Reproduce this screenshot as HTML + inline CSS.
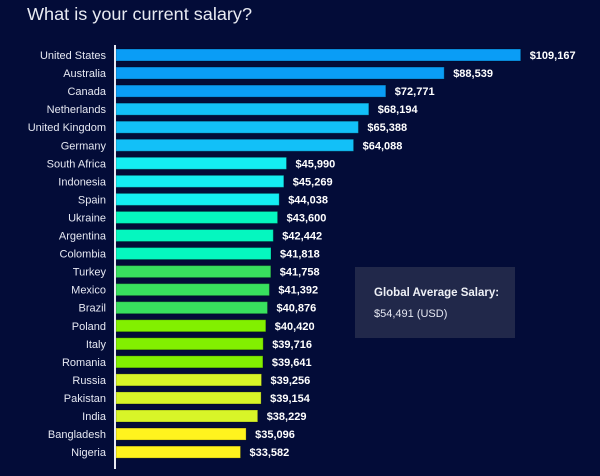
<!DOCTYPE html>
<html><head><meta charset="utf-8"><style>
html,body{margin:0;padding:0;background:#030c38;}
svg{display:block;}
.c{font-family:"Liberation Sans",sans-serif;font-size:11px;fill:#e6e8f2;text-anchor:end;}
.v{font-family:"Liberation Sans",sans-serif;font-size:11px;font-weight:bold;fill:#ffffff;}
</style></head><body>
<svg width="600" height="476" viewBox="0 0 600 476" xmlns="http://www.w3.org/2000/svg">
<rect width="600" height="476" fill="#030c38"/>
<text x="27" y="20" font-family="Liberation Sans, sans-serif" font-size="17.5" fill="#e8eaf2" textLength="225" lengthAdjust="spacingAndGlyphs">What is your current salary?</text>
<g stroke="rgba(0,0,0,0.25)" stroke-width="1">
<rect x="116" y="49" width="404.7" height="12" fill="#0a9df6"/>
<rect x="116" y="67.05" width="328.2" height="12" fill="#0a9df6"/>
<rect x="116" y="85.1" width="269.8" height="12" fill="#0a9df6"/>
<rect x="116" y="103.15" width="252.8" height="12" fill="#12c0f8"/>
<rect x="116" y="121.2" width="242.4" height="12" fill="#12c0f8"/>
<rect x="116" y="139.25" width="237.6" height="12" fill="#12c0f8"/>
<rect x="116" y="157.3" width="170.5" height="12" fill="#14eef2"/>
<rect x="116" y="175.35" width="167.8" height="12" fill="#14eef2"/>
<rect x="116" y="193.4" width="163.2" height="12" fill="#14eef2"/>
<rect x="116" y="211.45" width="161.6" height="12" fill="#05f7bf"/>
<rect x="116" y="229.5" width="157.3" height="12" fill="#05f7bf"/>
<rect x="116" y="247.55" width="155.0" height="12" fill="#05f7bf"/>
<rect x="116" y="265.6" width="154.8" height="12" fill="#38e05e"/>
<rect x="116" y="283.65" width="153.4" height="12" fill="#38e05e"/>
<rect x="116" y="301.7" width="151.5" height="12" fill="#38e05e"/>
<rect x="116" y="319.75" width="149.8" height="12" fill="#82f000"/>
<rect x="116" y="337.8" width="147.2" height="12" fill="#82f000"/>
<rect x="116" y="355.85" width="146.9" height="12" fill="#82f000"/>
<rect x="116" y="373.9" width="145.5" height="12" fill="#d8f528"/>
<rect x="116" y="391.95" width="145.1" height="12" fill="#d8f528"/>
<rect x="116" y="410" width="141.7" height="12" fill="#d8f528"/>
<rect x="116" y="428.05" width="130.1" height="12" fill="#fff31e"/>
<rect x="116" y="446.1" width="124.5" height="12" fill="#fff31e"/>
</g>
<line x1="115" y1="45" x2="115" y2="469" stroke="#e8eaf2" stroke-width="2"/>
<g class="c">
<text class="c" x="106" y="59">United States</text>
<text class="c" x="106" y="77.05">Australia</text>
<text class="c" x="106" y="95.1">Canada</text>
<text class="c" x="106" y="113.15">Netherlands</text>
<text class="c" x="106" y="131.2">United Kingdom</text>
<text class="c" x="106" y="149.25">Germany</text>
<text class="c" x="106" y="167.3">South Africa</text>
<text class="c" x="106" y="185.35">Indonesia</text>
<text class="c" x="106" y="203.4">Spain</text>
<text class="c" x="106" y="221.45">Ukraine</text>
<text class="c" x="106" y="239.5">Argentina</text>
<text class="c" x="106" y="257.55">Colombia</text>
<text class="c" x="106" y="275.6">Turkey</text>
<text class="c" x="106" y="293.65">Mexico</text>
<text class="c" x="106" y="311.7">Brazil</text>
<text class="c" x="106" y="329.75">Poland</text>
<text class="c" x="106" y="347.8">Italy</text>
<text class="c" x="106" y="365.85">Romania</text>
<text class="c" x="106" y="383.9">Russia</text>
<text class="c" x="106" y="401.95">Pakistan</text>
<text class="c" x="106" y="420">India</text>
<text class="c" x="106" y="438.05">Bangladesh</text>
<text class="c" x="106" y="456.1">Nigeria</text>
</g>
<g>
<text class="v" x="529.7" y="59">$109,167</text>
<text class="v" x="453.2" y="77.05">$88,539</text>
<text class="v" x="394.8" y="95.1">$72,771</text>
<text class="v" x="377.8" y="113.15">$68,194</text>
<text class="v" x="367.4" y="131.2">$65,388</text>
<text class="v" x="362.6" y="149.25">$64,088</text>
<text class="v" x="295.5" y="167.3">$45,990</text>
<text class="v" x="292.8" y="185.35">$45,269</text>
<text class="v" x="288.2" y="203.4">$44,038</text>
<text class="v" x="286.6" y="221.45">$43,600</text>
<text class="v" x="282.3" y="239.5">$42,442</text>
<text class="v" x="280.0" y="257.55">$41,818</text>
<text class="v" x="279.8" y="275.6">$41,758</text>
<text class="v" x="278.4" y="293.65">$41,392</text>
<text class="v" x="276.5" y="311.7">$40,876</text>
<text class="v" x="274.8" y="329.75">$40,420</text>
<text class="v" x="272.2" y="347.8">$39,716</text>
<text class="v" x="271.9" y="365.85">$39,641</text>
<text class="v" x="270.5" y="383.9">$39,256</text>
<text class="v" x="270.1" y="401.95">$39,154</text>
<text class="v" x="266.7" y="420">$38,229</text>
<text class="v" x="255.1" y="438.05">$35,096</text>
<text class="v" x="249.5" y="456.1">$33,582</text>
</g>
<rect x="355" y="267" width="160" height="71" fill="#21284a"/>
<text x="374" y="296" font-family="Liberation Sans, sans-serif" font-size="11.5" font-weight="bold" fill="#eef0f6">Global Average Salary:</text>
<text x="374" y="317" font-family="Liberation Sans, sans-serif" font-size="11" fill="#e6e8f2">$54,491 (USD)</text>
</svg>
</body></html>
